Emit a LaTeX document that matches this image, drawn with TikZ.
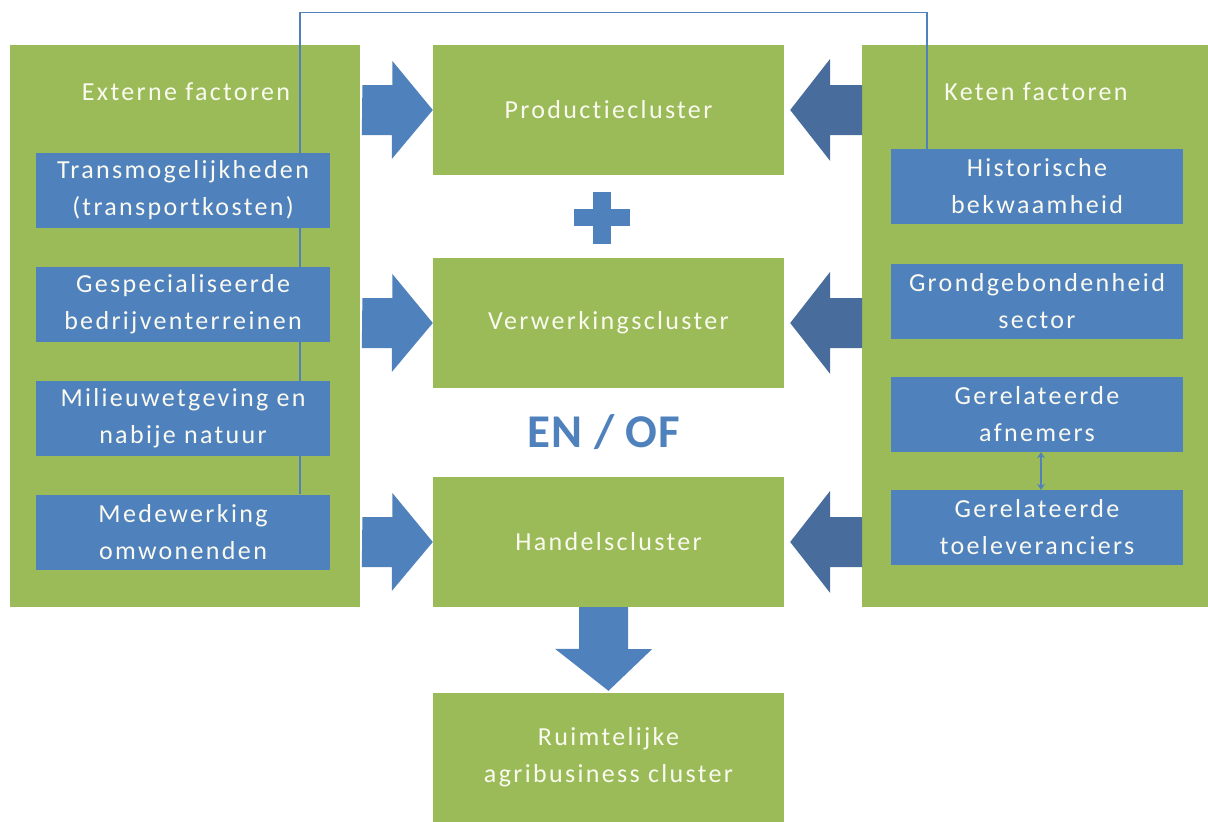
\documentclass[tikz,border=0pt]{standalone}
\usepackage{fontspec}
\setmainfont{Carlito}[LetterSpace=9,Ligatures=NoCommon]
\newfontfamily\enoffont{Carlito}[LetterSpace=2]
\usetikzlibrary{arrows.meta,backgrounds}
\definecolor{agreen}{RGB}{155,187,89}
\definecolor{ablue}{RGB}{79,129,189}
\definecolor{dblue}{RGB}{72,108,155}
\definecolor{txtw}{RGB}{250,250,240}
\begin{document}
\begin{tikzpicture}[x=1pt,y=-1pt,
  panel/.style={fill=agreen,inner sep=0,anchor=north west},
  cluster/.style={fill=agreen,inner sep=0,minimum width=351pt,minimum height=130pt,text=txtw,font=\fontsize{26}{37}\selectfont,align=center},
  factor/.style={fill=ablue,inner sep=0,minimum height=75pt,text=txtw,font=\fontsize{26}{37}\selectfont,align=center},
  lbl/.style={text=txtw,font=\fontsize{26}{30}\selectfont,inner sep=0},
  fb/.style={draw=ablue,line width=1.6pt},
  barrow/.style={fill=ablue},
  darrow/.style={fill=dblue}]
\useasboundingbox (0,0) rectangle (1208,822);
% panels
\begin{scope}[on background layer]
\node[panel,minimum width=350pt,minimum height=562pt] (lp) at (10,45) {};
\node[panel,minimum width=346pt,minimum height=562pt] (rp) at (862,45) {};
\end{scope}
\node[lbl] (ext) at (186,92) {Externe factoren};
\node[lbl] (ket) at (1036,92) {Keten factoren};
% factor boxes left
\node[factor,minimum width=294pt] (f1) at (183,190.5) {Transmogelijkheden\\(transportkosten)};
\node[factor,minimum width=294pt] (f2) at (183,304.5) {Gespecialiseerde\\bedrijventerreinen};
\node[factor,minimum width=294pt] (f3) at (183,418) {Milieuwetgeving en\\nabije natuur};
\node[factor,minimum width=294pt] (f4) at (183,532) {Medewerking\\omwonenden};
% factor boxes right
\node[factor,minimum width=292pt] (h1) at (1037,186.5) {Historische\\bekwaamheid};
\node[factor,minimum width=292pt] (h2) at (1037,301) {Grondgebondenheid\\sector};
\node[factor,minimum width=292pt] (h3) at (1037,414.5) {Gerelateerde\\afnemers};
\node[factor,minimum width=292pt] (h4) at (1037,527.5) {Gerelateerde\\toeleveranciers};
% feedback line (behind boxes)
\begin{scope}[on background layer]
\draw[fb] ([xshift=117pt]f4.north) -- ++(0,-482) -| ([xshift=-110pt]h1.north);
\end{scope}
% double arrow
\draw[ablue,line width=1.2pt,{Stealth[length=6pt,width=8pt]}-{Stealth[length=6pt,width=8pt]}] ([xshift=4pt]h3.south) -- ([xshift=4pt]h4.north);
% clusters
\node[cluster] (prod) at (608.5,110) {Productiecluster};
\node[cluster] (verw) at (608.5,323) {Verwerkingscluster};
\node[cluster] (hand) at (608.5,542) {Handelscluster};
\node[cluster,minimum height=129pt] (ruim) at (608.5,757.5) {Ruimtelijke\\agribusiness cluster};
% plus
\fill[ablue] (593,192) rectangle (611,244);
\fill[ablue] (574,209) rectangle (630,226);
\node[text=ablue,font=\enoffont\bfseries\fontsize{47}{47}\selectfont,inner sep=0] (enof) at (604,432) {EN / OF};
% block arrows
\foreach \c in {prod,verw,hand}{
  \fill[barrow] (lp.east |- \c) ++(2,-25) -- ++(30,0) -- ++(0,-24) -- (\c.west) -- ++(-41,49) -- ++(0,-24) -- ++(-30,0) -- cycle;
  \fill[darrow] (rp.west |- \c) ++(0,-25) -- ++(-32,0) -- ++(0,-26) -- ([xshift=6pt]\c.east) -- ++(40,51) -- ++(0,-26) -- ++(32,0) -- cycle;
}
% down arrow
\fill[barrow] (hand.south) ++(-29.5,0) -- ++(49,0) -- ++(0,42) -- ++(24,0) -- ([yshift=2pt]ruim.north) -- ++(-53.5,-42) -- ++(24,0) -- cycle;
\end{tikzpicture}
\end{document}
